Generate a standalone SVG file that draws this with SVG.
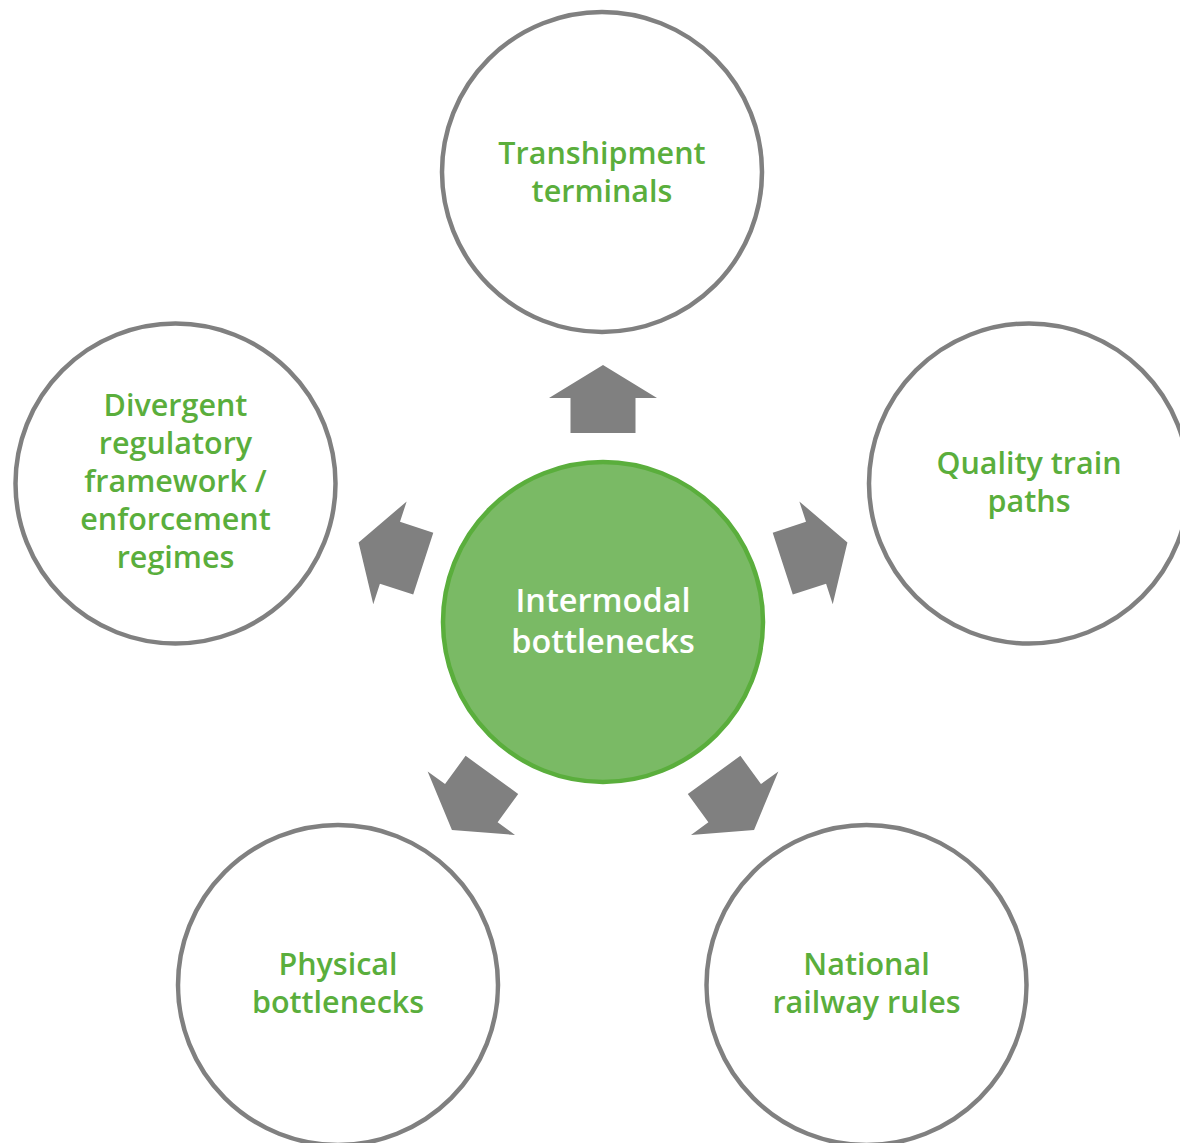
<svg xmlns="http://www.w3.org/2000/svg" width="1180" height="1143" viewBox="0 0 1180 1143">
<style>
.outer{fill:#ffffff;stroke:#808080;stroke-width:4.5}
.center{fill:#7aba65;stroke:#5aae3c;stroke-width:4.5}
.lbl{font-family:"Open Sans","Liberation Sans",sans-serif;font-weight:600;font-size:30.5px;fill:#5aae3c;text-anchor:middle}
.clbl{font-family:"Open Sans","Liberation Sans",sans-serif;font-weight:600;font-size:32.5px;fill:#ffffff;text-anchor:middle}
.arr{fill:#808080}
</style>
<defs>
<polygon id="arrow" points="-32.5,-189 -32.5,-224 -54,-224 0,-257 54,-224 32.5,-224 32.5,-189"/>
</defs>
<rect width="1180" height="1143" fill="#ffffff"/>
<g id="connectors">
<use href="#arrow" class="arr" transform="translate(603,622)"/>
<use href="#arrow" class="arr" transform="translate(603,622) rotate(72)"/>
<use href="#arrow" class="arr" transform="translate(603,622) rotate(144)"/>
<use href="#arrow" class="arr" transform="translate(603,622) rotate(216)"/>
<use href="#arrow" class="arr" transform="translate(603,622) rotate(288)"/>
</g>
<g id="node-center">
<circle class="center" cx="603" cy="622" r="160"/>
<text class="clbl" x="603" y="612">Intermodal</text>
<text class="clbl" x="603" y="653">bottlenecks</text>
</g>
<g id="node-top">
<circle class="outer" cx="602" cy="172" r="160"/>
<text class="lbl" x="602" y="164">Transhipment</text>
<text class="lbl" x="602" y="202">terminals</text>
</g>
<g id="node-right">
<circle class="outer" cx="1029" cy="483.5" r="160"/>
<text class="lbl" x="1029" y="474">Quality train</text>
<text class="lbl" x="1029" y="512">paths</text>
</g>
<g id="node-bottom-right">
<circle class="outer" cx="866.5" cy="985" r="160"/>
<text class="lbl" x="866.5" y="975">National</text>
<text class="lbl" x="866.5" y="1013">railway rules</text>
</g>
<g id="node-bottom-left">
<circle class="outer" cx="338" cy="985" r="160"/>
<text class="lbl" x="338" y="975">Physical</text>
<text class="lbl" x="338" y="1013">bottlenecks</text>
</g>
<g id="node-left">
<circle class="outer" cx="175.5" cy="483.5" r="160"/>
<text class="lbl" x="175.5" y="416">Divergent</text>
<text class="lbl" x="175.5" y="454">regulatory</text>
<text class="lbl" x="175.5" y="492">framework /</text>
<text class="lbl" x="175.5" y="530">enforcement</text>
<text class="lbl" x="175.5" y="568">regimes</text>
</g>
</svg>
